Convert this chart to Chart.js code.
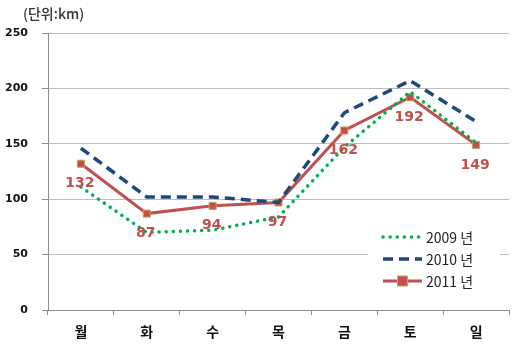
<!DOCTYPE html>
<html>
<head>
<meta charset="utf-8">
<script src="https://cdn.jsdelivr.net/npm/chart.js@4"></script>
<style>
  html, body { margin: 0; padding: 0; background: #fff; }
  #wrap { width: 520px; height: 345px; position: relative; }
</style>
</head>
<body>
<div id="wrap"><canvas id="c" width="520" height="345"></canvas></div>
<script>
// Weekly distance by day (unit: km)
const days = ['월', '화', '수', '목', '금', '토', '일'];
const series2009 = [111, 70, 72, 84, 147, 197, 151];
const series2010 = [146, 102, 102, 97, 178, 207, 170];
const series2011 = [132, 87, 94, 97, 162, 192, 149];
const seriesNames = ['2009 년', '2010 년', '2011 년'];
const yTicks = [0, 50, 100, 150, 200, 250];
const unitLabel = '(단위:km)';

const RED = '#C0504D', NAVY = '#1F497D', GREEN = '#00B050';
const AXIS = '#8C8C8C', GRID = '#BDBDBD';
const CJK = '"Noto Sans CJK KR", "DejaVu Sans", sans-serif';

// Value labels under the 2011 markers
const valueLabels = {
  id: 'valueLabels',
  afterDatasetsDraw(chart) {
    const ctx = chart.ctx;
    const meta = chart.getDatasetMeta(2);
    ctx.save();
    ctx.font = 'bold 14px "DejaVu Sans", sans-serif';
    ctx.fillStyle = RED;
    ctx.textAlign = 'center';
    ctx.textBaseline = 'middle';
    meta.data.forEach((pt, i) => {
      ctx.fillText(String(series2011[i]), pt.x - 1, pt.y + 20);
    });
    ctx.restore();
  }
};

// Unit caption and in-plot legend
const extras = {
  id: 'extras',
  afterDraw(chart) {
    const ctx = chart.ctx;
    ctx.save();
    ctx.font = '500 14px ' + CJK;
    ctx.fillStyle = '#333';
    ctx.textAlign = 'left';
    ctx.textBaseline = 'middle';
    ctx.fillText(unitLabel, 23, 14);

    // legend box
    ctx.fillStyle = '#fff';
    ctx.fillRect(368, 224, 132, 70);
    const rows = [237, 259, 281];
    const x0 = 383, x1 = 422;
    chart.data.datasets.forEach((ds, i) => {
      const y = rows[i];
      ctx.save();
      ctx.strokeStyle = ds.borderColor;
      ctx.lineWidth = ds.borderWidth;
      ctx.lineCap = ds.borderCapStyle || 'butt';
      ctx.setLineDash(ds.borderDash || []);
      ctx.beginPath();
      ctx.moveTo(x0, y);
      ctx.lineTo(x1, y);
      ctx.stroke();
      ctx.restore();
      if (ds.pointRadius > 0) {
        const r = ds.pointRadius;
        ctx.fillStyle = ds.pointBackgroundColor;
        ctx.strokeStyle = ds.pointBorderColor;
        ctx.lineWidth = ds.pointBorderWidth;
        ctx.fillRect((x0 + x1) / 2 - r, y - r, 2 * r, 2 * r);
        ctx.strokeRect((x0 + x1) / 2 - r, y - r, 2 * r, 2 * r);
      }
      ctx.fillStyle = '#222';
      ctx.font = '14px ' + CJK;
      ctx.fillText(seriesNames[i], x1 + 4, y + 1);
    });
    ctx.restore();
  }
};

new Chart(document.getElementById('c'), {
  type: 'line',
  data: {
    labels: days,
    datasets: [
      {
        label: seriesNames[0], data: series2009,
        borderColor: GREEN, borderWidth: 3.5,
        borderDash: [0.1, 7], borderCapStyle: 'round',
        pointRadius: 0, pointHoverRadius: 0, tension: 0
      },
      {
        label: seriesNames[1], data: series2010,
        borderColor: NAVY, borderWidth: 3.5,
        borderDash: [10, 6], borderCapStyle: 'butt',
        pointRadius: 0, pointHoverRadius: 0, tension: 0
      },
      {
        label: seriesNames[2], data: series2011,
        borderColor: RED, borderWidth: 3,
        pointStyle: 'rect', pointRadius: 5, pointHoverRadius: 5,
        pointBackgroundColor: RED, pointBorderColor: '#C9A25A', pointBorderWidth: 1,
        tension: 0
      }
    ]
  },
  options: {
    responsive: false,
    animation: false,
    events: [],
    layout: { padding: { top: 33, right: 11, left: 0, bottom: 0 } },
    plugins: { legend: { display: false }, tooltip: { enabled: false }, title: { display: false } },
    scales: {
      x: {
        type: 'category',
        offset: true,
        afterFit(s) { s.height = 35; },
        border: { display: true, color: AXIS, width: 1 },
        grid: {
          offset: true, drawOnChartArea: false, drawTicks: true,
          tickLength: 5, tickColor: AXIS, color: AXIS
        },
        ticks: {
          padding: 8, color: '#111',
          font: { family: CJK, size: 14, weight: 'bold' }
        }
      },
      y: {
        min: 0, max: 250,
        afterFit(s) { s.width = 48; },
        afterBuildTicks(s) { s.ticks = yTicks.map(v => ({ value: v })); },
        border: { display: true, color: AXIS, width: 1 },
        grid: {
          color: ctx => (ctx.tick && ctx.tick.value === 0) ? 'rgba(0,0,0,0)' : GRID,
          lineWidth: 1,
          borderDash: [1, 1],
          drawTicks: true, tickLength: 6,
          tickColor: AXIS, tickBorderDash: []
        },
        ticks: {
          padding: 14, color: '#111',
          font: { family: '"DejaVu Sans", sans-serif', size: 11, weight: 'bold' }
        }
      }
    }
  },
  plugins: [valueLabels, extras]
});
</script>
</body>
</html>
